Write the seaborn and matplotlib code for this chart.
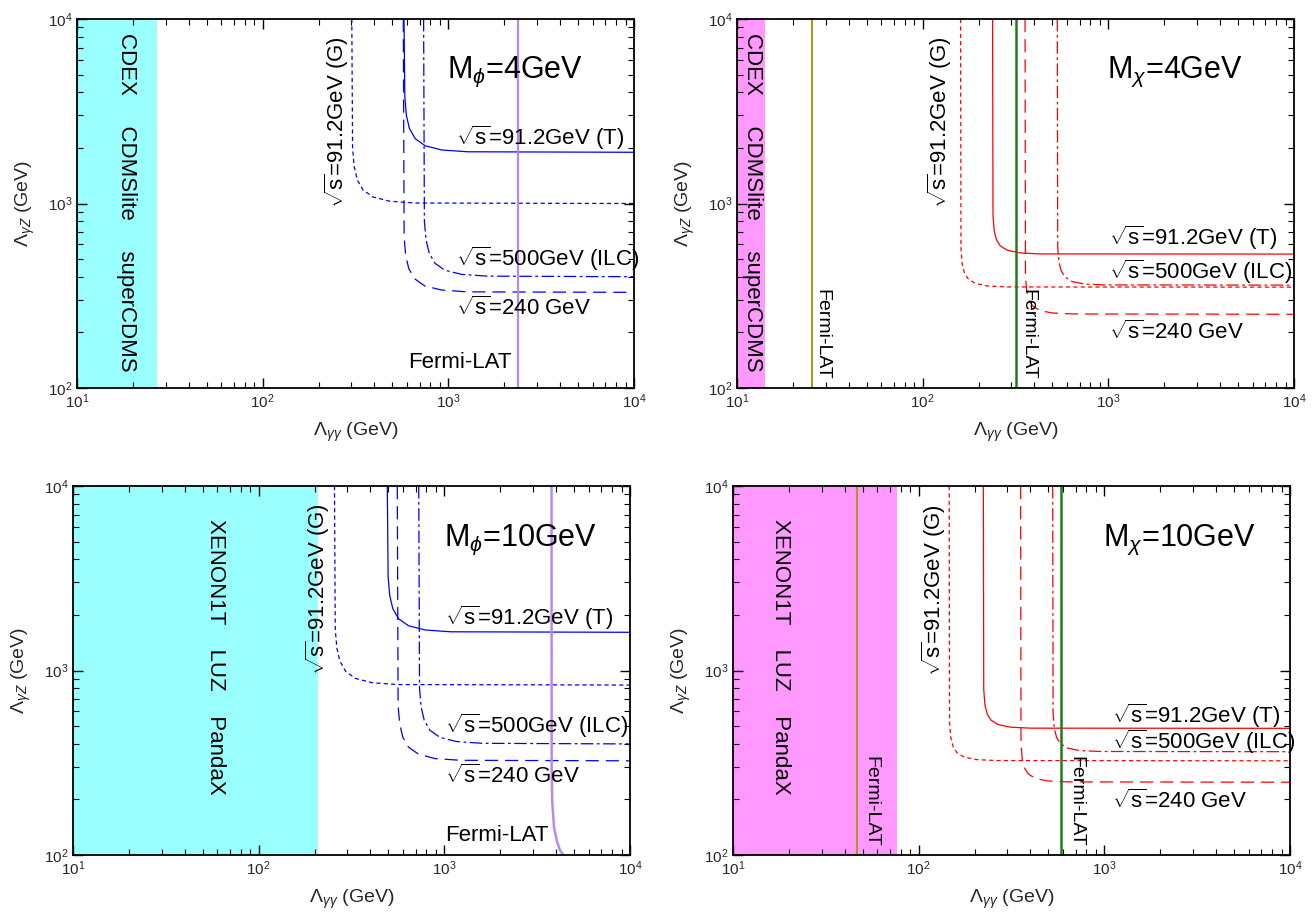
import matplotlib
matplotlib.use("Agg")
import matplotlib.pyplot as plt
import seaborn as sns

# ---------------- data ----------------
# top-left: M_phi = 4 GeV
tl_band = 27
tl_fermi = 2370
tl_g_x = [302, 305, 311, 323, 347, 393, 483, 664, 10000]
tl_g_y = [10000, 2000, 1589, 1346, 1184, 1085, 1029, 1006, 1000]
tl_t_x = [577, 583, 594, 617, 664, 750, 923, 1269, 10000]
tl_t_y = [10000, 3790, 3011, 2551, 2244, 2056, 1950, 1907, 1895]
tl_ilc_x = [736, 743, 758, 788, 846, 957, 1178, 1619, 10000]
tl_ilc_y = [10000, 802, 637, 540, 475, 435, 413, 404, 401]
tl_240_x = [572, 578, 589, 612, 658, 744, 915, 1258, 10000]
tl_240_y = [10000, 660, 524, 444, 391, 358, 340, 332, 330]

# top-right: M_chi = 4 GeV
tr_band = 14.1
tr_fermi_a = 25.2
tr_fermi_b = 318
tr_g_x = [160, 160.8, 163.2, 168, 176, 192, 224, 288, 10000]
tr_g_y = [10000, 570, 471, 420, 390, 369, 357, 353, 352]
tr_t_x = [238, 239.2, 242.8, 249.9, 261.8, 285.6, 333.2, 428.4, 10000]
tr_t_y = [10000, 861, 712, 635, 589, 558, 540, 533, 532]
tr_ilc_x = [531, 533.7, 541.6, 557.6, 584.1, 637.2, 743.4, 955.8, 10000]
tr_ilc_y = [10000, 584, 483, 431, 400, 378, 366, 362, 361]
tr_240_x = [356, 357.8, 363.1, 373.8, 391.6, 427.2, 498.4, 640.8, 10000]
tr_240_y = [10000, 406, 336, 300, 278, 263, 255, 252, 251]

# bottom-left: M_phi = 10 GeV
bl_band = 210
bl_fermi_x = [3780, 3785, 3815, 3896, 4029, 4198, 4374]
bl_fermi_y = [10000, 290, 191, 142, 120, 106, 100]
bl_g_x = [256, 258.6, 263.7, 273.9, 294.4, 332.8, 409.6, 563.2, 10000]
bl_g_y = [10000, 1668, 1325, 1123, 987, 905, 858, 839, 834]
bl_t_x = [493, 497.9, 507.8, 527.5, 567, 640.9, 788.8, 1084.6, 10000]
bl_t_y = [10000, 3222, 2560, 2168, 1907, 1748, 1658, 1621, 1611]
bl_ilc_x = [728, 735.3, 749.8, 779, 837.2, 946.4, 1164.8, 1601.6, 10000]
bl_ilc_y = [10000, 800, 636, 538, 474, 434, 412, 403, 400]
bl_240_x = [558, 563.6, 574.7, 597.1, 641.7, 725.4, 892.8, 1227.6, 10000]
bl_240_y = [10000, 648, 515, 436, 384, 352, 333, 326, 324]

# bottom-right: M_chi = 10 GeV
br_band = 76
br_fermi_a = 46.7
br_fermi_b = 584
br_g_x = [146, 146.7, 148.9, 153.3, 160.6, 175.2, 204.4, 262.8, 10000]
br_g_y = [10000, 525, 434, 387, 359, 340, 329, 325, 324]
br_t_x = [223, 224.1, 227.5, 234.2, 245.3, 267.6, 312.2, 401.4, 10000]
br_t_y = [10000, 787, 651, 580, 538, 509, 493, 487, 486]
br_ilc_x = [527, 529.6, 537.5, 553.4, 579.7, 632.4, 737.8, 948.6, 10000]
br_ilc_y = [10000, 588, 486, 433, 402, 380, 368, 364, 363]
br_240_x = [354, 355.8, 361.1, 371.7, 389.4, 424.8, 495.6, 637.2, 10000]
br_240_y = [10000, 402, 332, 296, 275, 260, 252, 249, 248]

lbl_T = r'$\sqrt{\mathrm{s}}$=91.2GeV (T)'
lbl_ILC = r'$\sqrt{\mathrm{s}}$=500GeV (ILC)'
lbl_240 = r'$\sqrt{\mathrm{s}}$=240 GeV'
lbl_G = r'$\sqrt{\mathrm{s}}$=91.2GeV (G)'

# ---------------- style ----------------
sns.set_theme(style="ticks")
plt.rcParams['font.family'] = ['Liberation Sans', 'DejaVu Sans']
plt.rcParams['mathtext.fontset'] = 'custom'
plt.rcParams['mathtext.rm'] = 'Liberation Sans'
plt.rcParams['mathtext.it'] = 'Liberation Sans:italic'
plt.rcParams['mathtext.bf'] = 'Liberation Sans:bold'
plt.rcParams['lines.scale_dashes'] = False

styles = {
    'G': (0, (3, 2.3)),
    'T': '-',
    'ILC': (0, (9, 2.5, 2, 2.5)),
    '240': (0, (9.5, 5)),
}

fig = plt.figure(figsize=(13.16, 9.15), dpi=100)
W, H = 557 / 1316, 369 / 915
ax_tl = fig.add_axes([77 / 1316, 1 - 388 / 915, W, H])
ax_tr = fig.add_axes([737 / 1316, 1 - 388 / 915, W, H])
ax_bl = fig.add_axes([73 / 1316, 1 - 855 / 915, W, H])
ax_br = fig.add_axes([733 / 1316, 1 - 855 / 915, W, H])


def setup(ax):
    ax.set_xscale('log')
    ax.set_yscale('log')
    ax.set_xlim(10, 1e4)
    ax.set_ylim(100, 1e4)
    ax.tick_params(which='both', direction='in', top=True, right=True,
                   labelsize=11, color='black')
    ax.tick_params(which='major', length=7, width=1)
    ax.tick_params(which='minor', length=4, width=0.8)
    for s in ax.spines.values():
        s.set_linewidth(1.3)
        s.set_color('black')
    ax.set_xlabel(r'$\Lambda_{\gamma\gamma}$ (GeV)', fontsize=14)
    ax.set_ylabel(r'$\Lambda_{\gamma Z}$ (GeV)', fontsize=14)
    ax.xaxis.set_label_coords(0.5, -0.09)
    ax.yaxis.set_label_coords(-0.072, 0.5)
    ax.grid(False)


def curves(ax, data, color):
    for key, (xs, ys) in data.items():
        sns.lineplot(x=xs, y=ys, ax=ax, color=color, linewidth=0.9,
                     linestyle=styles[key], sort=False, estimator=None)


def txt(ax, x, y, s, size=16, rot=0, ha='left'):
    ax.text(x, y, s, transform=ax.transAxes, fontsize=size, rotation=rot,
            ha=ha, va='center', color='black')


for ax in (ax_tl, ax_tr, ax_bl, ax_br):
    setup(ax)

# top-left
ax_tl.axvspan(10, tl_band, color='#99FFFF', lw=0, zorder=0)
curves(ax_tl, {'G': (tl_g_x, tl_g_y), 'T': (tl_t_x, tl_t_y),
               'ILC': (tl_ilc_x, tl_ilc_y), '240': (tl_240_x, tl_240_y)}, '#0000FF')
ax_tl.axvline(tl_fermi, color='#B48CF0', lw=1.6)
txt(ax_tl, 0.088, 0.503, 'CDEX     CDMSlite     superCDMS', rot=270, ha='center')
txt(ax_tl, 0.664, 0.856, r'M$_{\phi}$=4GeV', size=22)
txt(ax_tl, 0.681, 0.677, lbl_T)
txt(ax_tl, 0.681, 0.350, lbl_ILC)
txt(ax_tl, 0.681, 0.215, lbl_240)
txt(ax_tl, 0.594, 0.070, 'Fermi-LAT')
txt(ax_tl, 0.466, 0.721, lbl_G, rot=90, ha='center')

# top-right
ax_tr.axvspan(10, tr_band, color='#FF99FF', lw=0, zorder=0)
curves(ax_tr, {'G': (tr_g_x, tr_g_y), 'T': (tr_t_x, tr_t_y),
               'ILC': (tr_ilc_x, tr_ilc_y), '240': (tr_240_x, tr_240_y)}, '#FF0000')
ax_tr.axvline(tr_fermi_a, color='#B8902A', lw=1.5)
ax_tr.axvline(tr_fermi_b, color='#1F7A1F', lw=1.8)
txt(ax_tr, 0.028, 0.503, 'CDEX     CDMSlite     superCDMS', rot=270, ha='center')
txt(ax_tr, 0.665, 0.856, r'M$_{\chi}$=4GeV', size=22)
txt(ax_tr, 0.667, 0.406, lbl_T)
txt(ax_tr, 0.667, 0.314, lbl_ILC)
txt(ax_tr, 0.667, 0.152, lbl_240)
txt(ax_tr, 0.153, 0.146, 'Fermi-LAT', size=14, rot=270, ha='center')
txt(ax_tr, 0.523, 0.146, 'Fermi-LAT', size=14, rot=270, ha='center')
txt(ax_tr, 0.3645, 0.721, lbl_G, rot=90, ha='center')

# bottom-left
ax_bl.axvspan(10, bl_band, color='#99FFFF', lw=0, zorder=0)
curves(ax_bl, {'G': (bl_g_x, bl_g_y), 'T': (bl_t_x, bl_t_y),
               'ILC': (bl_ilc_x, bl_ilc_y), '240': (bl_240_x, bl_240_y)}, '#0000FF')
sns.lineplot(x=bl_fermi_x, y=bl_fermi_y, ax=ax_bl, color='#B48CF0', linewidth=1.8,
             sort=False, estimator=None)
txt(ax_bl, 0.256, 0.537, 'XENON1T    LUZ    PandaX', rot=270, ha='center')
txt(ax_bl, 0.666, 0.854, r'M$_{\phi}$=10GeV', size=22)
txt(ax_bl, 0.668, 0.642, lbl_T)
txt(ax_bl, 0.668, 0.350, lbl_ILC)
txt(ax_bl, 0.668, 0.214, lbl_240)
txt(ax_bl, 0.668, 0.054, 'Fermi-LAT')
txt(ax_bl, 0.439, 0.721, lbl_G, rot=90, ha='center')

# bottom-right
ax_br.axvspan(10, br_band, color='#FF99FF', lw=0, zorder=0)
curves(ax_br, {'G': (br_g_x, br_g_y), 'T': (br_t_x, br_t_y),
               'ILC': (br_ilc_x, br_ilc_y), '240': (br_240_x, br_240_y)}, '#FF0000')
ax_br.axvline(br_fermi_a, color='#B8902A', lw=1.5)
ax_br.axvline(br_fermi_b, color='#1F7A1F', lw=1.8)
txt(ax_br, 0.086, 0.537, 'XENON1T    LUZ    PandaX', rot=270, ha='center')
txt(ax_br, 0.664, 0.854, r'M$_{\chi}$=10GeV', size=22)
txt(ax_br, 0.681, 0.377, lbl_T)
txt(ax_br, 0.681, 0.307, lbl_ILC)
txt(ax_br, 0.681, 0.147, lbl_240)
txt(ax_br, 0.247, 0.146, 'Fermi-LAT', size=14, rot=270, ha='center')
txt(ax_br, 0.616, 0.146, 'Fermi-LAT', size=14, rot=270, ha='center')
txt(ax_br, 0.3605, 0.718, lbl_G, rot=90, ha='center')

fig.savefig('out.png', dpi=100)
